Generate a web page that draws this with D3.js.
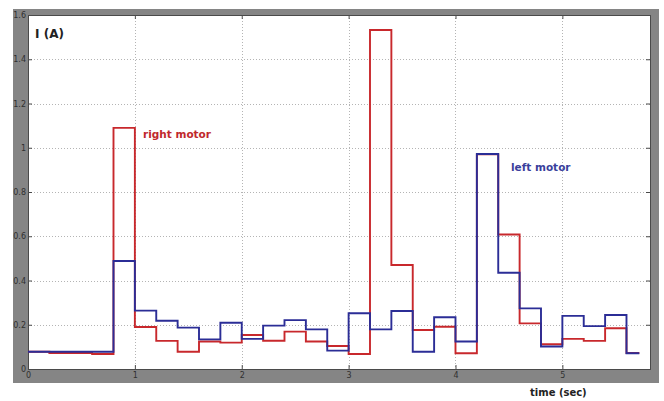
<!DOCTYPE html>
<html>
<head>
<meta charset="utf-8">
<script src="https://cdn.jsdelivr.net/npm/d3@7"></script>
<style>
  html, body { margin: 0; padding: 0; background: #ffffff; }
  svg { display: block; }
</style>
</head>
<body>
<svg id="chart" width="664" height="401"></svg>
<script>
// ---- data ----
const timeEdges = [0, 0.2, 0.4, 0.6, 0.8, 1.0, 1.2, 1.4, 1.6, 1.8, 2.0, 2.2, 2.4, 2.6, 2.8,
                   3.0, 3.2, 3.4, 3.6, 3.8, 4.0, 4.2, 4.4, 4.6, 4.8, 5.0, 5.2, 5.4, 5.6, 5.72];
const rightMotor = [0.078, 0.072, 0.072, 0.068, 1.09, 0.19, 0.127, 0.078, 0.124, 0.119,
                    0.154, 0.128, 0.169, 0.124, 0.104, 0.068, 1.532, 0.47, 0.176, 0.191,
                    0.071, 0.97, 0.608, 0.206, 0.112, 0.136, 0.127, 0.184, 0.072];
const leftMotor  = [0.078, 0.078, 0.078, 0.078, 0.488, 0.264, 0.218, 0.187, 0.134, 0.209,
                    0.136, 0.196, 0.221, 0.179, 0.083, 0.252, 0.179, 0.262, 0.078, 0.234,
                    0.124, 0.972, 0.435, 0.274, 0.102, 0.24, 0.194, 0.244, 0.071];
const xTicks = [0, 1, 2, 3, 4, 5];
const yTicks = [0, 0.2, 0.4, 0.6, 0.8, 1, 1.2, 1.4, 1.6];
const yTickLabels = ["0", "0.2", "0.4", "0.6", "0.8", "1", "1.2", "1.4", "1.6"];

// ---- layout ----
const svg = d3.select("#chart");
const L = 28, R = 650, T = 15, B = 369;
const x = d3.scaleLinear().domain([0, 5.82]).range([L, R]);
const y = d3.scaleLinear().domain([0, 1.6]).range([B, T]);

// gray frame
svg.append("rect").attr("x", 13).attr("y", 9).attr("width", 646).attr("height", 374)
   .attr("fill", "#858585");
// plot area
svg.append("rect").attr("x", L).attr("y", T).attr("width", R - L).attr("height", B - T)
   .attr("fill", "#ffffff");

// grid
const grid = svg.append("g").attr("stroke", "#b4b4b4").attr("stroke-width", 1)
   .attr("stroke-dasharray", "1,2");
grid.selectAll("line.gx").data(xTicks.slice(1)).join("line")
   .attr("x1", d => Math.round(x(d)) + 0.5).attr("x2", d => Math.round(x(d)) + 0.5)
   .attr("y1", T).attr("y2", B);
grid.selectAll("line.gy").data(yTicks.slice(1, -1)).join("line")
   .attr("y1", d => Math.round(y(d)) + 0.5).attr("y2", d => Math.round(y(d)) + 0.5)
   .attr("x1", L).attr("x2", R);

// axes (MATLAB-style inner ticks)
const axB = d3.axisBottom(x).tickValues(xTicks).tickSize(-4).tickPadding(3).tickFormat(d3.format("d"));
const axT = d3.axisTop(x).tickValues(xTicks).tickSize(-4).tickFormat("");
const axL = d3.axisLeft(y).tickValues(yTicks).tickSize(-4).tickPadding(2)
   .tickFormat((d, i) => yTickLabels[i]);
const axR = d3.axisRight(y).tickValues(yTicks).tickSize(-4).tickFormat("");

function styleAxis(g) {
  g.select(".domain").attr("stroke", "#4a4a4a").attr("stroke-width", 1);
  g.selectAll(".tick line").attr("stroke", "#4a4a4a");
  g.selectAll(".tick text").attr("fill", "#303030").style("font-size", "8px")
   .style("font-family", "'DejaVu Sans', sans-serif");
}
svg.append("g").attr("transform", `translate(0,${B})`).call(axB).call(styleAxis);
svg.append("g").attr("transform", `translate(0,${T})`).call(axT).call(styleAxis);
svg.append("g").attr("transform", `translate(${L},0)`).call(axL).call(styleAxis);
svg.append("g").attr("transform", `translate(${R},0)`).call(axR).call(styleAxis);

// step lines
function stepPoints(vals) {
  const pts = vals.map((v, i) => [timeEdges[i], v]);
  pts.push([timeEdges[timeEdges.length - 1], vals[vals.length - 1]]);
  return pts;
}
const line = d3.line().x(d => x(d[0])).y(d => y(d[1])).curve(d3.curveStepAfter);
svg.append("path").attr("d", line(stepPoints(rightMotor)))
   .attr("fill", "none").attr("stroke", "#c8282c").attr("stroke-width", 1.9);
svg.append("path").attr("d", line(stepPoints(leftMotor)))
   .attr("fill", "none").attr("stroke", "#2b2d96").attr("stroke-width", 1.9);

// labels
const font = "'DejaVu Sans', Verdana, sans-serif";
svg.append("text").attr("x", 35).attr("y", 38).text("I (A)")
   .attr("fill", "#222").style("font-family", font).style("font-weight", "bold").style("font-size", "12px");
svg.append("text").attr("x", 143).attr("y", 138).text("right motor")
   .attr("fill", "#c0282c").style("font-family", font).style("font-weight", "bold").style("font-size", "10.5px");
svg.append("text").attr("x", 511).attr("y", 171).text("left motor")
   .attr("fill", "#3a3f9c").style("font-family", font).style("font-weight", "bold").style("font-size", "10.5px");
svg.append("text").attr("x", 530).attr("y", 396).text("time (sec)")
   .attr("fill", "#222").style("font-family", font).style("font-weight", "bold").style("font-size", "10px");
</script>
</body>
</html>
